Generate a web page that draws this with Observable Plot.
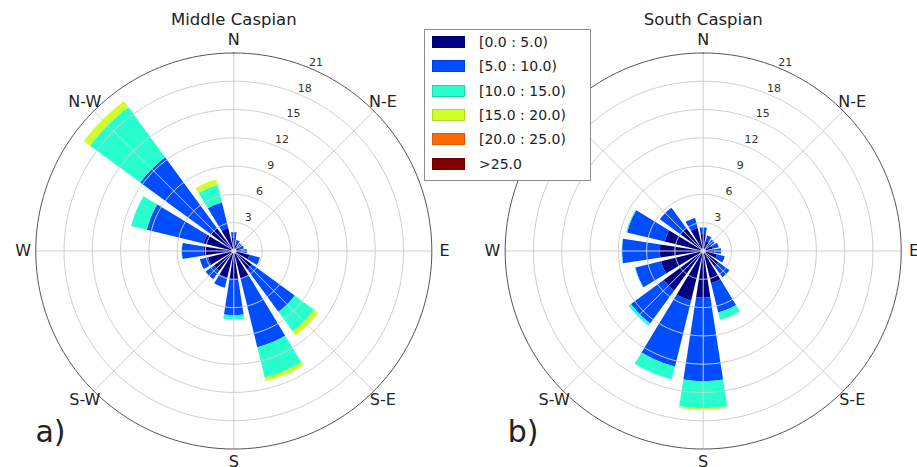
<!DOCTYPE html>
<html><head><meta charset="utf-8">
<script src="https://cdn.jsdelivr.net/npm/d3@7"></script>
<script src="https://cdn.jsdelivr.net/npm/@observablehq/plot@0.6"></script>
<style>
html,body{margin:0;padding:0;background:#fff;}
#wrap{position:relative;width:917px;height:467px;font-family:"DejaVu Sans",sans-serif;}
#legend{position:absolute;left:424px;top:29px;width:167px;height:152px;box-sizing:border-box;border:1px solid #8c8c8c;background:#fff;}
.sw{position:absolute;left:7px;width:33px;height:12px;box-sizing:border-box;}
.lt{position:absolute;left:54px;font-size:14px;color:#222;line-height:16px;white-space:nowrap;}
</style></head><body><div id="wrap"></div>
<script>
// ---- data ----
const directions = ["N","NNE","NE","ENE","E","ESE","SE","SSE","S","SSW","SW","WSW","W","WNW","NW","NNW"];
const stations = ["Middle Caspian", "South Caspian"];
const panelLabels = ["a)", "b)"];
const speedClasses = ["[0.0 : 5.0)", "[5.0 : 10.0)", "[10.0 : 15.0)", "[15.0 : 20.0)", "[20.0 : 25.0)", ">25.0"];
const radialTicks = [3, 6, 9, 12, 15, 18, 21];
const compassLabels = ["N", "N-E", "E", "S-E", "S", "S-W", "W", "N-W"];

// Middle Caspian: frequency (%) per speed class, directions N -> NNW clockwise
const mid_0_5   = [1.4, 0.7, 0.6, 0.6, 0.8, 1.7, 2.4, 3.0, 3.0, 2.9, 2.6, 2.8, 3.2, 3.3, 3.0, 2.5];
const mid_5_10  = [0.6, 0.5, 0.45, 0.5, 0.6, 1.15, 5.6, 7.5, 3.8, 1.1, 1.1, 0.9, 2.3, 6.2, 9.3, 2.8];
const mid_10_15 = [0, 0, 0, 0, 0, 0, 2.55, 3.3, 0.45, 0, 0, 0, 0.05, 1.7, 6.6, 1.9];
const mid_15_20 = [0, 0, 0, 0, 0, 0, 0.55, 0.4, 0, 0, 0, 0, 0, 0, 0.8, 0.6];
const mid_20_25 = [0, 0, 0, 0, 0, 0, 0, 0, 0, 0, 0, 0, 0, 0, 0, 0];
const mid_25    = [0, 0, 0, 0, 0, 0, 0, 0, 0, 0, 0, 0, 0, 0, 0, 0];

// South Caspian
const south_0_5   = [1.8, 1.1, 1.0, 1.0, 1.2, 1.5, 2.0, 3.5, 4.95, 5.4, 5.2, 4.6, 4.6, 4.2, 3.0, 2.5];
const south_5_10  = [0.7, 0.6, 0.5, 0.7, 0.7, 0.85, 1.45, 3.2, 8.85, 7.2, 4.3, 2.8, 4.0, 4.1, 2.7, 1.1];
const south_10_15 = [0, 0, 0, 0, 0, 0, 0, 0.8, 2.85, 1.4, 0.3, 0.05, 0.05, 0.1, 0, 0];
const south_15_20 = [0, 0, 0, 0, 0, 0, 0, 0, 0.15, 0, 0, 0, 0, 0, 0, 0];
const south_20_25 = [0, 0, 0, 0, 0, 0, 0, 0, 0, 0, 0, 0, 0, 0, 0, 0];
const south_25    = [0, 0, 0, 0, 0, 0, 0, 0, 0, 0, 0, 0, 0, 0, 0, 0];

// ---- styles / layout ----
const classColors = ["#00007f", "#004cff", "#29ffce", "#ceff29", "#ff6800", "#7f0000"];
const W = 917, H = 467, PX = 9.43, CY = 250.5, CX = [233.3, 702.7];
const offsets = CX.map(c => (c - CX[0]) / PX);
const sector = 360 / directions.length, half = sector * 0.39;

const stationData = [
  [mid_0_5, mid_5_10, mid_10_15, mid_15_20, mid_20_25, mid_25],
  [south_0_5, south_5_10, south_10_15, south_15_20, south_20_25, south_25]
];

const xy = (s, r, deg) => {
  const a = deg * Math.PI / 180;
  return {x: offsets[s] + r * Math.sin(a), y: r * Math.cos(a)};
};

// bar segments
const verts = [];
stationData.forEach((classes, s) => {
  directions.forEach((dir, d) => {
    let cum = 0;
    const th = d * sector;
    classes.forEach((arr, j) => {
      const v = arr[d];
      if (!(v > 0)) return;
      const r0 = cum, r1 = cum + v, id = `${s}-${d}-${j}`, cls = speedClasses[j];
      const n = 8;
      if (r0 > 0) {
        for (let k = 0; k <= n; k++) verts.push({id, cls, ...xy(s, r0, th - half + 2 * half * k / n)});
      } else verts.push({id, cls, ...xy(s, 0, th)});
      for (let k = n; k >= 0; k--) verts.push({id, cls, ...xy(s, r1, th - half + 2 * half * k / n)});
      cum = r1;
    });
  });
});

// grid rings
const rings = [], outer = [];
stations.forEach((st, s) => {
  radialTicks.forEach(t => {
    const target = t === radialTicks[radialTicks.length - 1] ? outer : rings;
    for (let k = 0; k <= 180; k++) target.push({id: `${s}-${t}`, ...xy(s, t, k * 2)});
  });
});
const rmax = radialTicks[radialTicks.length - 1];
const spokes = [];
stations.forEach((st, s) => compassLabels.forEach((c, i) => {
  const p = xy(s, rmax, i * 45), o = xy(s, 0, 0);
  spokes.push({x1: o.x, y1: o.y, x2: p.x, y2: p.y});
}));
const rLabels = [], cLabels = [], titles = [], panels = [], centers = [];
stations.forEach((st, s) => {
  radialTicks.forEach(t => rLabels.push({text: String(t), ...xy(s, t + 0.85, 23.5)}));
  compassLabels.forEach((c, i) => {
    // the right rose's N-W label sits under the legend box and is not visible
    if (s === 1 && c === "N-W") return;
    cLabels.push({text: c, ...xy(s, 22.35, i * 45)});
  });
  titles.push({text: st, x: offsets[s], y: (CY - 19.2) / PX});
  panels.push({text: panelLabels[s], x: offsets[s] - 21.03 + (s ? 0.3 : 0), y: -(431.5 - CY) / PX});
  centers.push(xy(s, 0, 0));
});

const chart = Plot.plot({
  width: W, height: H, margin: 0,
  x: {domain: [-CX[0] / PX, (W - CX[0]) / PX], axis: null},
  y: {domain: [-(H - CY) / PX, CY / PX], axis: null},
  color: {domain: speedClasses, range: classColors},
  style: {fontFamily: "DejaVu Sans, sans-serif", background: "white", overflow: "visible"},
  marks: [
    Plot.line(verts, {x: "x", y: "y", z: "id", fill: "cls", stroke: "none", curve: "linear-closed"}),
    Plot.line(rings, {x: "x", y: "y", z: "id", stroke: "#cfcfcf", strokeWidth: 1, curve: "linear-closed"}),
    Plot.link(spokes, {x1: "x1", y1: "y1", x2: "x2", y2: "y2", stroke: "#cfcfcf", strokeWidth: 1}),
    Plot.line(outer, {x: "x", y: "y", z: "id", stroke: "#555", strokeWidth: 1, curve: "linear-closed"}),
    Plot.dot(centers, {x: "x", y: "y", r: 2.5, fill: "#d9d9d9"}),
    Plot.text(rLabels, {x: "x", y: "y", text: "text", fontSize: 11, fill: "#333"}),
    Plot.text(cLabels, {x: "x", y: "y", text: "text", fontSize: 16, fill: "#222"}),
    Plot.text(titles, {x: "x", y: "y", text: "text", fontSize: 16.5, fill: "#222"}),
    Plot.text(panels, {x: "x", y: "y", text: "text", fontSize: 30, fill: "#222", textAnchor: "start"})
  ]
});
const wrap = document.getElementById("wrap");
wrap.appendChild(chart);

// legend
const legend = document.createElement("div");
legend.id = "legend";
speedClasses.forEach((c, i) => {
  const sw = document.createElement("div");
  sw.className = "sw";
  sw.style.top = (6 + i * 24.3) + "px";
  sw.style.background = classColors[i];
  sw.style.border = "1px solid rgba(0,0,0,0.15)";
  legend.appendChild(sw);
  const t = document.createElement("div");
  t.className = "lt";
  t.style.top = (4 + i * 24.3) + "px";
  t.textContent = c;
  legend.appendChild(t);
});
wrap.appendChild(legend);
</script></body></html>
